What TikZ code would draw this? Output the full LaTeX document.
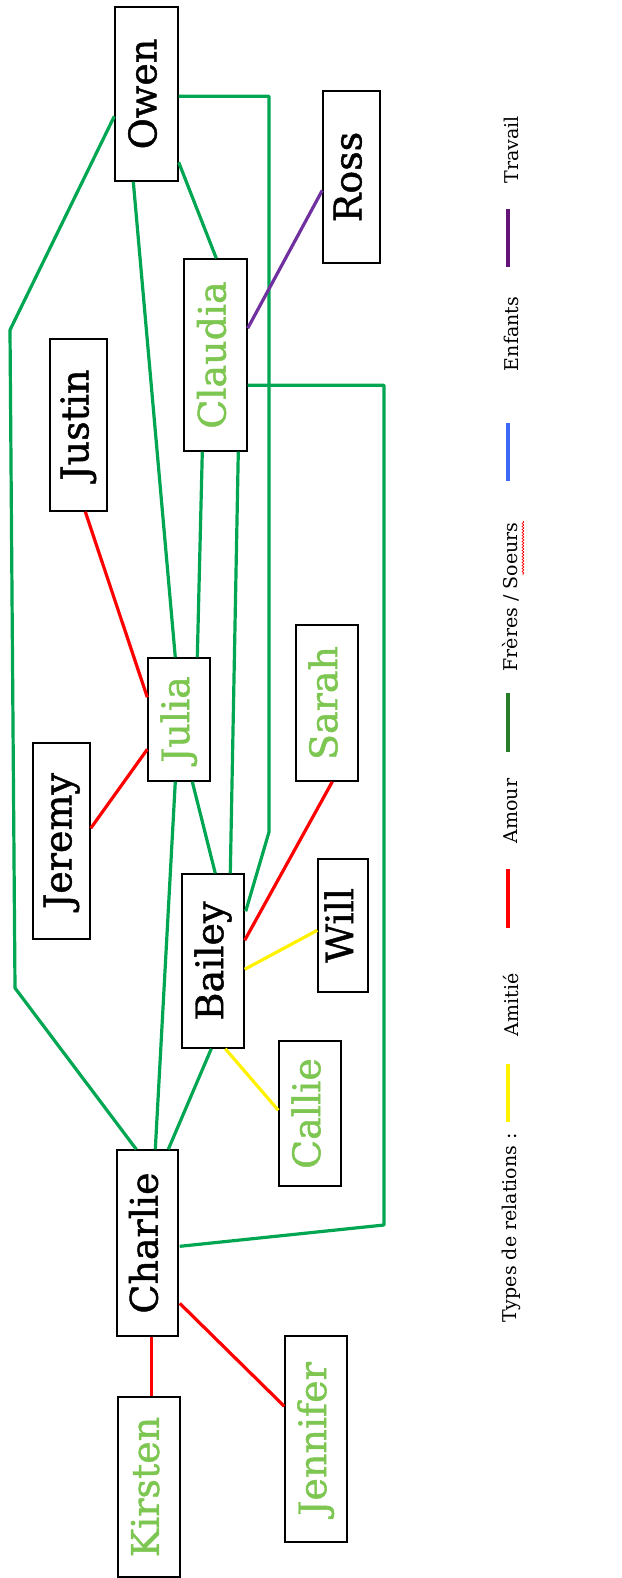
\documentclass[tikz,border=0pt]{standalone}
\usepackage{fontspec}
\setmainfont{DejaVu Serif}
\newfontfamily\namefont[FakeBold=1.2]{DejaVu Serif}
\usetikzlibrary{calc,decorations.pathmorphing}

\definecolor{sibgreen}{RGB}{0,166,81}
\definecolor{namegreen}{RGB}{125,198,81}
\definecolor{workpurple}{RGB}{112,48,160}
\definecolor{keygreen}{RGB}{40,125,40}
\definecolor{keypurple}{RGB}{100,20,120}
\definecolor{keyblue}{RGB}{60,105,245}

\tikzset{
	person/.style={draw, line width=1.4pt, inner sep=0pt, font=\namefont\fontsize{38}{40}\selectfont},
	kid/.style={person, text=namegreen},
	sib/.style={draw=sibgreen, line width=3.2pt, line join=round},
	love/.style={draw=red, line width=3.2pt},
	friend/.style={draw=yellow, line width=3.2pt},
	work/.style={draw=workpurple, line width=3.2pt},
	keyline/.style={line width=3.2pt},
	keytext/.style={rotate=90, font=\fontsize{19}{21}\selectfont}
}
\newcommand{\nm}[1]{\rotatebox{90}{\vphantom{Oy}#1}}

\begin{document}
\begin{tikzpicture}[x=1pt,y=-1pt]
	\useasboundingbox (0,0) rectangle (621,1578);

	% people
	\node[person, minimum width=63pt, minimum height=174pt] (owen) at (146.5,94) {\nm{Owen}};
	\node[person, minimum width=57pt, minimum height=172pt] (ross) at (351.5,177) {\nm{Ross}};
	\node[kid, minimum width=63pt, minimum height=192pt] (claudia) at (215.5,355) {\nm{Claudia}};
	\node[person, minimum width=57pt, minimum height=172pt] (justin) at (78.5,425) {\nm{Justin}};
	\node[kid, minimum width=62pt, minimum height=123pt] (julia) at (179,719.5) {\nm{Julia}};
	\node[kid, minimum width=62pt, minimum height=156pt] (sarah) at (327,703) {\nm{Sarah}};
	\node[person, minimum width=57pt, minimum height=196pt] (jeremy) at (61.5,841) {\nm{Jeremy}};
	\node[person, minimum width=62pt, minimum height=174pt] (bailey) at (213,961) {\nm{Bailey}};
	\node[person, minimum width=50pt, minimum height=133pt] (will) at (343,925.5) {\nm{Will}};
	\node[kid, minimum width=62pt, minimum height=145pt] (callie) at (310,1113.5) {\nm{Callie}};
	\node[person, minimum width=61pt, minimum height=186pt] (charlie) at (147.5,1243) {\nm{Charlie}};
	\node[kid, minimum width=62pt, minimum height=180pt] (kirsten) at (149,1487) {\nm{Kirsten}};
	\node[kid, minimum width=62pt, minimum height=206pt] (jennifer) at (316,1439) {\nm{Jennifer}};

	% bends of the long links
	\coordinate (bendA) at (10,330);
	\coordinate (bendB) at (15,988);
	\coordinate (bendC) at (269,832);
	\coordinate (bendD) at (384,1225);

	% brothers / sisters
	\draw[sib] ($(owen.north west)+(0,110)$) -- (bendA) -- (bendB) -- ($(charlie.north west)+(20,0)$);
	\draw[sib] ($(owen.south west)+(19,0)$) -- ($(julia.north west)+(28,0)$);
	\draw[sib] ($(owen.north east)+(0,156)$) -- ($(claudia.north west)+(33,0)$);
	\draw[sib] ($(owen.north east)+(0,90)$) -| (bendC) -- ($(bailey.north east)+(1,38)$);
	\draw[sib] ($(claudia.north east)+(0,127)$) -| (bendD) -- ($(charlie.north east)+(1,97)$);
	\draw[sib] ($(claudia.south west)+(19,0)$) -- ($(julia.north west)+(50,0)$);
	\draw[sib] ($(claudia.south west)+(55,0)$) -- ($(bailey.north west)+(49,0)$);
	\draw[sib] ($(julia.south west)+(28,0)$) -- ($(charlie.north west)+(39,0)$);
	\draw[sib] ($(julia.south west)+(45,0)$) -- ($(bailey.north west)+(34,0)$);
	\draw[sib] ($(bailey.south west)+(30,0)$) -- ($(charlie.north west)+(52,0)$);

	% love
	\draw[love] ($(justin.south west)+(36,0)$) -- ($(julia.north west)+(0,40)$);
	\draw[love] ($(jeremy.north east)+(0,86)$) -- ($(julia.north west)+(0,92)$);
	\draw[love] ($(sarah.south west)+(37,0)$) -- ($(bailey.north east)+(0,67)$);
	\draw[love] ($(charlie.south west)+(35,0)$) -- ($(kirsten.north west)+(34,0)$);
	\draw[love] ($(charlie.north east)+(1,154)$) -- ($(jennifer.north west)+(0,71)$);

	% friendship
	\draw[friend] ($(bailey.north east)+(0,96)$) -- ($(will.north west)+(0,72)$);
	\draw[friend] ($(bailey.south west)+(44,0)$) -- ($(callie.north west)+(0,70)$);

	% work
	\draw[work] ($(claudia.north east)+(0,70)$) -- ($(ross.north west)+(0,100)$);

	% key
	\node[keytext] (kTravail) at (511,150) {Travail};
	\draw[keyline, keypurple] (508,209) -- (508,267);
	\node[keytext] (kEnfants) at (511,334) {Enfants};
	\draw[keyline, keyblue] (508,423) -- (508,481);
	\node[keytext] (kFreres) at (511,597) {Frères / Soeurs};
	\draw[red, line width=0.7pt, decorate, decoration={snake, amplitude=0.9pt, segment length=3pt}]
		($(kFreres.south east)+(0,2)$) -- ++(0,54);
	\draw[keyline, keygreen] (508,693) -- (508,752);
	\node[keytext] (kAmour) at (511,811) {Amour};
	\draw[keyline, red] (508,869) -- (508,928);
	\node[keytext] (kAmitie) at (511,1005) {Amitié};
	\draw[keyline, yellow] (508,1064) -- (508,1122);
	\node[keytext] (kTypes) at (511,1228) {Types de relations :};
\end{tikzpicture}
\end{document}
